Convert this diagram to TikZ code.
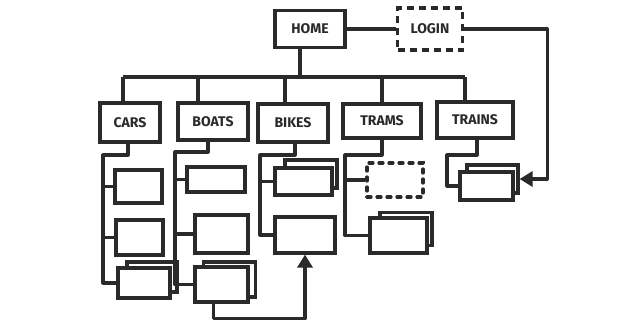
\documentclass[tikz,border=0pt]{standalone}
\usepackage{fontspec}
\setmainfont{Fira Sans}
\usetikzlibrary{arrows.meta}
\definecolor{ink}{HTML}{2A2A2A}
\tikzset{
  box/.style={draw=ink, line width=3.2pt, fill=white, inner sep=0pt, font=\bfseries\fontsize{14}{16}\selectfont, text=ink},
  dbox/.style={box, dash pattern=on 7pt off 5pt},
  dotbox/.style={box, line cap=round, dash pattern=on 4pt off 6pt},
  wire/.style={draw=ink, line width=3.2pt, line join=round},
  tip/.style={wire, -{Triangle[width=15pt,length=13pt]}},
}
\newcommand{\bx}[5]{\node[box, minimum width=#4pt, minimum height=#5pt] (#1) at (#2,#3) {};}
\begin{document}
\begin{tikzpicture}[x=1pt,y=-1pt]
\useasboundingbox (0,0) rectangle (644,330);
% top level
\node[box, minimum width=70pt, minimum height=37pt] (home) at (310,29) {HOME};
\node[dbox, minimum width=65pt, minimum height=42pt] (login) at (430,29) {LOGIN};
\draw[wire] (home.east) -- (login.west);
% level 1
\node[box, minimum width=60pt, minimum height=39pt] (cars) at (130,122.5) {CARS};
\node[box, minimum width=70pt, minimum height=37pt] (boats) at (213,121.5) {BOATS};
\node[box, minimum width=70pt, minimum height=38pt] (bikes) at (293,123) {BIKES};
\node[box, minimum width=78pt, minimum height=34pt] (trams) at (382,121) {TRAMS};
\node[box, minimum width=76pt, minimum height=36pt] (trains) at (475,120) {TRAINS};
\coordinate (busL) at (123,77);
\coordinate (busR) at (465,77);
\draw[wire] (busL) -- (busR);
\draw[wire] ([xshift=-10pt]home.south) -- ([xshift=-10pt]home.south |- busL);
\draw[wire] (cars.north -| busL) -- (busL);
\draw[wire] ([xshift=-15pt]boats.north) -- ([xshift=-15pt]boats.north |- busL);
\draw[wire] ([xshift=-8pt]bikes.north) -- ([xshift=-8pt]bikes.north |- busL);
\draw[wire] (trams.north) -- (trams.north |- busL);
\draw[wire] (trains.north -| busR) -- (busR);
% CARS children
\bx{c1}{138.5}{186.5}{47}{33}
\bx{c2}{139.5}{237.5}{47}{35}
\bx{c3b}{152}{277}{50}{30}
\bx{c3}{144}{283}{52}{30}
\coordinate (tC) at (103,155);
\draw[wire] ([xshift=-2pt]cars.south) |- (tC) |- (c3.west);
\draw[wire] (c1.west -| tC) -- (c1.west);
\draw[wire] (c2.west -| tC) -- (c2.west);
% BOATS children
\bx{b1}{216}{179.5}{58}{25}
\bx{b2}{221.5}{234}{53}{38}
\bx{b3b}{229.5}{279.5}{52}{35}
\bx{b3}{221.5}{284.5}{53}{35}
\coordinate (tB) at (175,152);
\draw[wire] ([xshift=-5pt]boats.south) |- (tB) |- (b3.west);
\draw[wire] (b1.west -| tB) -- (b1.west);
\draw[wire] (b2.west -| tB) -- (b2.west);
% BIKES children
\bx{k1b}{311}{174}{52}{28}
\bx{k1}{303.5}{181.5}{57}{27}
\bx{k2}{305}{235}{60}{36}
\coordinate (tK) at (260,155);
\draw[wire] ([xshift=2pt]bikes.south) |- (tK) |- (k2.west);
\draw[wire] (k1.west -| tK) -- (k1.west);
\draw[tip] ([xshift=-8pt]b3.south) -- ++(0,15) -| (k2.south);
% TRAMS children
\node[dotbox, minimum width=56pt, minimum height=34pt] (m1) at (395,180) {};
\bx{m2b}{406}{229}{52}{33}
\bx{m2}{398.5}{235.5}{57}{35}
\coordinate (tM) at (345,155);
\draw[wire] (trams.south) |- (tM) |- (m2.west);
\draw[wire] (m1.west -| tM) -- (m1.west);
% TRAINS children
\bx{r1b}{492.5}{179}{51}{28}
\bx{r1}{486.5}{186}{53}{28}
\coordinate (tR) at (447,155);
\draw[wire] ([xshift=2pt]trains.south) |- (tR) |- (r1.west);
\draw[tip] (login.east) -- ++(83,0) |- (r1b.east);
\end{tikzpicture}
\end{document}
